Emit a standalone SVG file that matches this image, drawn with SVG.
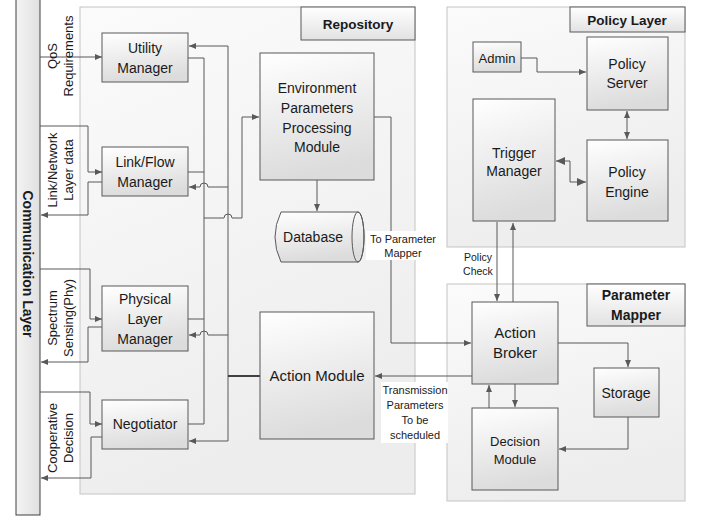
<svg xmlns="http://www.w3.org/2000/svg" width="704" height="516" viewBox="0 0 704 516">
<style>
  .cont{fill:url(#gc);stroke:#c4c4c4;stroke-width:1}
  .node{fill:url(#gn);stroke:#595959;stroke-width:1}
  .lab{fill:url(#gl);stroke:#595959;stroke-width:1}
  .t{font-family:"Liberation Sans",Arial,sans-serif;font-size:14px;fill:#1a1a1a;text-anchor:middle}
  .b{font-weight:bold;font-size:13.5px}
  .s{font-size:11px}
  .r{font-size:13px}
  .ln{fill:none;stroke:#595959;stroke-width:1}
  .a{marker-end:url(#ah)}
  .d{marker-start:url(#ahs);marker-end:url(#ah)}
  .D{marker-start:url(#bhs);marker-end:url(#bh)}
  .wb{fill:#ffffff;stroke:none}
</style>
<defs>
  <linearGradient id="gc" x1="0" y1="0" x2="0.3" y2="1">
    <stop offset="0" stop-color="#fbfbfb"/><stop offset="1" stop-color="#ededed"/>
  </linearGradient>
  <linearGradient id="gn" x1="0" y1="0" x2="0.2" y2="1">
    <stop offset="0" stop-color="#ffffff"/><stop offset="1" stop-color="#dcdcdc"/>
  </linearGradient>
  <linearGradient id="gl" x1="0" y1="0" x2="0" y2="1">
    <stop offset="0" stop-color="#ffffff"/><stop offset="1" stop-color="#e2e2e2"/>
  </linearGradient>
  <linearGradient id="gb" x1="0" y1="0" x2="1" y2="0">
    <stop offset="0" stop-color="#f4f4f4"/><stop offset="1" stop-color="#e0e0e0"/>
  </linearGradient>
  <marker id="ah" markerUnits="userSpaceOnUse" markerWidth="8" markerHeight="8" refX="7" refY="3" orient="auto">
    <path d="M0,0 L7,3 L0,6 z" fill="#595959"/>
  </marker>
  <marker id="ahs" markerUnits="userSpaceOnUse" markerWidth="8" markerHeight="8" refX="7" refY="3" orient="auto-start-reverse">
    <path d="M0,0 L7,3 L0,6 z" fill="#595959"/>
  </marker>
  <marker id="bh" markerUnits="userSpaceOnUse" markerWidth="10" markerHeight="10" refX="9" refY="4" orient="auto">
    <path d="M0,0 L9,4 L0,8 z" fill="#595959"/>
  </marker>
  <marker id="bhs" markerUnits="userSpaceOnUse" markerWidth="10" markerHeight="10" refX="9" refY="4" orient="auto-start-reverse">
    <path d="M0,0 L9,4 L0,8 z" fill="#595959"/>
  </marker>
</defs>
<rect width="704" height="516" fill="#ffffff"/>

<!-- Containers -->
<g id="repository">
  <rect class="cont" x="80" y="7" width="335" height="487"/>
  <rect class="lab" x="301" y="7" width="114" height="33"/>
  <text class="t b" x="358" y="29">Repository</text>
</g>
<g id="policy-layer">
  <rect class="cont" x="447" y="7" width="238" height="240"/>
  <rect class="lab" x="570" y="7" width="115" height="25"/>
  <text class="t b" x="627" y="25">Policy Layer</text>
</g>
<g id="parameter-mapper">
  <rect class="cont" x="447" y="284" width="238" height="217"/>
  <rect class="lab" x="587" y="284" width="98" height="42"/>
  <text class="t b" style="font-size:14px" x="636" y="300">Parameter</text>
  <text class="t b" style="font-size:14px" x="636" y="320">Mapper</text>
</g>

<g id="communication-layer">
  <rect x="16" y="-1" width="24" height="516" fill="url(#gb)" stroke="#404040" stroke-width="1"/>
  <text class="t b" style="font-size:14px" transform="translate(28,264) rotate(90)" y="5">Communication Layer</text>
</g>

<!-- Connectors -->
<g id="connectors">
  <path class="ln a" d="M40,57 H102"/>
  <path class="ln a" d="M40,126 H88 V172 H102"/>
  <path class="ln a" d="M102,182 H88 V215 H41"/>
  <path class="ln a" d="M40,269 H90 V319 H102"/>
  <path class="ln a" d="M102,327 H88 V362 H41"/>
  <path class="ln a" d="M40,392 H90 V424 H102"/>
  <path class="ln a" d="M102,437 H91 V478 H41"/>
  <path class="ln" d="M188,58 H204 V424 H188"/>
  <path class="ln" d="M188,172 H204"/>
  <path class="ln" d="M188,319 H204"/>
  <path class="ln a" d="M204,218 H224 A4,4 0 0 1 232,218 H242 V117 H259"/>
  <path class="ln" d="M228,46 V441"/>
  <path class="ln a" d="M228,46 H189"/>
  <path class="ln a" d="M228,187 H208 A4,4 0 0 0 200,187 H189"/>
  <path class="ln a" d="M228,335 H208 A4,4 0 0 0 200,335 H189"/>
  <path class="ln a" d="M228,441 H189"/>
  <path d="M228,376 H260" stroke="#404040" stroke-width="2" fill="none"/>
  <path class="ln a" d="M317,180 V211"/>
  <path class="ln a" d="M374,117 H391 V343 H471"/>
  <path class="ln a" d="M472,376 H375"/>
  <path class="ln a" d="M497,222 V301"/>
  <path class="ln a" d="M513,302 V223"/>
  <path class="ln a" d="M558,343 H628 V367"/>
  <path class="ln a" d="M628,417 V449 H559"/>
  <path class="ln a" d="M489,408 V385"/>
  <path class="ln a" d="M515,384 V407"/>
  <path class="ln a" d="M521,58 H537 V72 H586"/>
  <path class="ln d" d="M627,111 V139"/>
  <path class="ln D" d="M556,161 H570 V182 H586"/>
</g>

<!-- Side labels -->
<g id="label-qos">
  <text class="t r" transform="translate(52,56) rotate(-90)" y="5">QoS</text>
  <text class="t r" transform="translate(68,56) rotate(-90)" y="5">Requirements</text>
</g>
<g id="label-link">
  <text class="t r" transform="translate(52,170) rotate(-90)" y="5">Link/Network</text>
  <text class="t r" transform="translate(68,170) rotate(-90)" y="5">Layer data</text>
</g>
<g id="label-spectrum">
  <text class="t r" transform="translate(52,318) rotate(-90)" y="5">Spectrum</text>
  <text class="t r" transform="translate(68,318) rotate(-90)" y="5">Sensing(Phy)</text>
</g>
<g id="label-coop">
  <text class="t r" transform="translate(52,438) rotate(-90)" y="5">Cooperative</text>
  <text class="t r" transform="translate(68,438) rotate(-90)" y="5">Decision</text>
</g>

<!-- Nodes -->
<g id="utility-manager">
  <rect class="node" x="102" y="33" width="86" height="49"/>
  <text class="t" x="145" y="53">Utility</text>
  <text class="t" x="145" y="73">Manager</text>
</g>
<g id="link-flow-manager">
  <rect class="node" x="102" y="147" width="86" height="49"/>
  <text class="t" x="145" y="167">Link/Flow</text>
  <text class="t" x="145" y="187">Manager</text>
</g>
<g id="physical-layer-manager">
  <rect class="node" x="102" y="286" width="86" height="65"/>
  <text class="t" x="145" y="304">Physical</text>
  <text class="t" x="145" y="324">Layer</text>
  <text class="t" x="145" y="344">Manager</text>
</g>
<g id="negotiator">
  <rect class="node" x="102" y="400" width="86" height="49"/>
  <text class="t" x="145" y="429">Negotiator</text>
</g>
<g id="eppm">
  <rect class="node" x="260" y="53" width="114" height="127"/>
  <text class="t" x="317" y="93">Environment</text>
  <text class="t" x="317" y="113">Parameters</text>
  <text class="t" x="317" y="133">Processing</text>
  <text class="t" x="317" y="152">Module</text>
</g>
<g id="database">
  <path class="node" d="M281,212 H358 A6,25 0 0 1 358,262 H281 Q269,237 281,212 Z"/>
  <ellipse cx="358" cy="237" rx="6" ry="25" fill="none" stroke="#595959" stroke-width="1"/>
  <text class="t" x="313" y="242">Database</text>
</g>
<g id="action-module">
  <rect class="node" x="260" y="312" width="114" height="127"/>
  <text class="t" style="font-size:15px" x="317" y="381">Action Module</text>
</g>
<g id="admin">
  <rect class="node" x="473" y="42" width="48" height="30"/>
  <text class="t r" x="497" y="63">Admin</text>
</g>
<g id="policy-server">
  <rect class="node" x="587" y="37" width="81" height="73"/>
  <text class="t" x="627" y="69">Policy</text>
  <text class="t" x="627" y="88">Server</text>
</g>
<g id="policy-engine">
  <rect class="node" x="587" y="140" width="81" height="81"/>
  <text class="t" x="627" y="177">Policy</text>
  <text class="t" x="627" y="197">Engine</text>
</g>
<g id="trigger-manager">
  <rect class="node" x="473" y="99" width="82" height="122"/>
  <text class="t" x="514" y="158">Trigger</text>
  <text class="t" x="514" y="176">Manager</text>
</g>
<g id="action-broker">
  <rect class="node" x="472" y="302" width="86" height="82"/>
  <text class="t" style="font-size:15px" x="515" y="338">Action</text>
  <text class="t" style="font-size:15px" x="515" y="358">Broker</text>
</g>
<g id="decision-module">
  <rect class="node" x="472" y="408" width="86" height="82"/>
  <text class="t r" x="515" y="446">Decision</text>
  <text class="t r" x="515" y="464">Module</text>
</g>
<g id="storage">
  <rect class="node" x="594" y="368" width="65" height="49"/>
  <text class="t" x="626" y="398">Storage</text>
</g>

<!-- Connector labels -->
<g id="label-to-parameter-mapper">
  <rect class="wb" x="366" y="231" width="74" height="29"/>
  <text class="t s" x="403" y="243">To Parameter</text>
  <text class="t s" x="403" y="257">Mapper</text>
</g>
<g id="label-transmission">
  <rect class="wb" x="381" y="382" width="67" height="61"/>
  <text class="t s" x="415" y="394">Transmission</text>
  <text class="t s" x="415" y="409">Parameters</text>
  <text class="t s" x="415" y="424">To be</text>
  <text class="t s" x="415" y="439">scheduled</text>
</g>
<g id="label-policy-check">
  <text class="t" style="font-size:10.5px" x="478" y="261">Policy</text>
  <text class="t" style="font-size:10.5px" x="478" y="275">Check</text>
</g>
</svg>
